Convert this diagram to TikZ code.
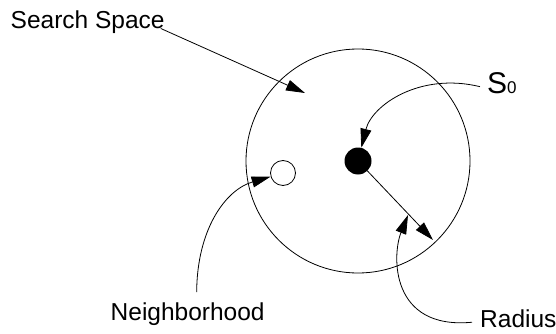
\documentclass[tikz,border=0pt]{standalone}
\usepackage{fontspec}
\setmainfont{Liberation Sans}
\usetikzlibrary{arrows.meta}
\begin{document}
\begin{tikzpicture}[x=1pt,y=-1pt,
    spaceCircle/.style={circle,draw=black,line width=0.8pt,minimum size=224pt,inner sep=0pt},
    startDot/.style={circle,fill=black,minimum size=27pt,inner sep=0pt},
    nbrDot/.style={circle,draw=black,fill=white,line width=0.8pt,minimum size=25pt,inner sep=0pt},
    nameLabel/.style={font=\fontsize{24.5}{29}\selectfont,inner sep=0pt,anchor=base west},
    nameArrow/.style={-{Triangle[length=19pt,width=11pt]},line width=0.8pt},
]
\useasboundingbox (0,0) rectangle (556,334);
% === circles ===
\node[spaceCircle] (space) at (358,161) {};
\node[startDot] (start) at (358,161) {};
\node[nbrDot] (nbr) at (283,173) {};
% === labels ===
\node[nameLabel] (search) at (10.5,28.5) {Search Space};
\node[nameLabel] (szero) at (487,94) {{\fontsize{30}{34}\selectfont S}{\fontsize{17}{20}\selectfont 0}};
\node[nameLabel] (neigh) at (110.5,320) {Neighborhood};
\node[nameLabel] (radius) at (480,327) {Radius};
\coordinate (spaceTip) at (305,93);
\coordinate (radTip) at (433,240);
\coordinate (radHead) at (408,215);
% === arrows ===
\draw[nameArrow] ([shift={(-4,0)}]search.base east) -- (spaceTip);
\draw[nameArrow] ([shift={(-7,3)}]szero.west) .. controls (420,72) and (372,105) .. (start);
\draw[nameArrow] (start) -- (radTip);
\draw[nameArrow] ([shift={(-8,4)}]radius.west) .. controls (390,330) and (392,255) .. (radHead);
\draw[nameArrow] ([shift={(9,-10)}]neigh.north) .. controls (197,230) and (225,190) .. (nbr);
\end{tikzpicture}
\end{document}
